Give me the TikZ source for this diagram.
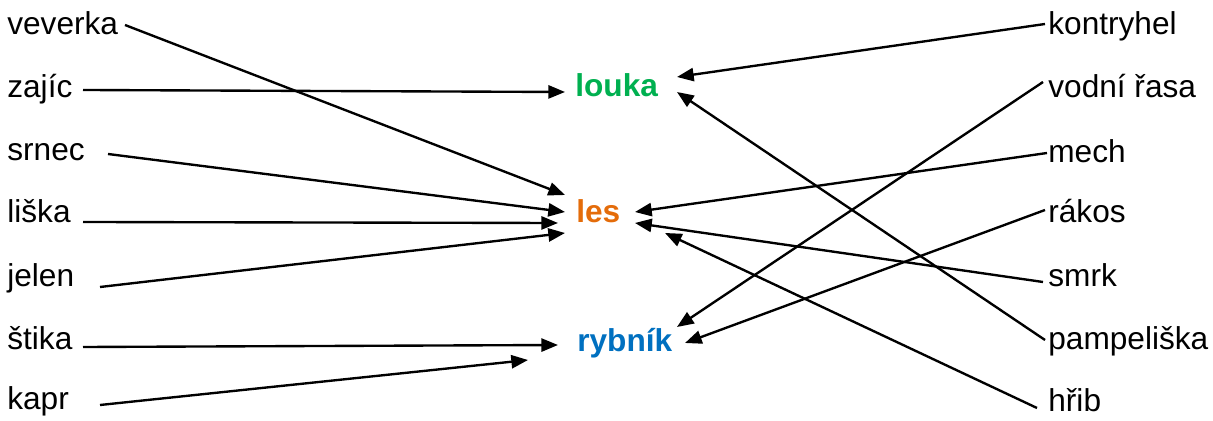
\documentclass[tikz,border=0pt]{standalone}
\usepackage{fontspec}
\setmainfont{Liberation Sans}
\usetikzlibrary{arrows.meta}
\definecolor{lukacol}{RGB}{0,176,80}
\definecolor{lescol}{RGB}{228,108,10}
\definecolor{rybcol}{RGB}{0,112,192}
\begin{document}
\begin{tikzpicture}[x=0.02cm,y=-0.02cm,
  word/.style={anchor=base west,inner sep=0pt,font=\fontsize{18}{22}\selectfont},
  place/.style={word,font=\fontsize{18}{22}\selectfont\bfseries},
  link/.style={draw,line width=1.35pt,-{Triangle[length=9.5pt,width=7.5pt]}}]
\useasboundingbox (0,0) rectangle (1213,421);
% animals (left)
\node[word] (veverka) at (7,35) {veverka};
\node[word] (zajic) at (7,98) {zajíc};
\node[word] (srnec) at (7,161) {srnec};
\node[word] (liska) at (7,223) {liška};
\node[word] (jelen) at (7,287) {jelen};
\node[word] (stika) at (7,350) {štika};
\node[word] (kapr) at (7,410) {kapr};
% places (middle)
\node[place,text=lukacol] (louka) at (575,97) {louka};
\node[place,text=lescol] (les) at (576,223) {les};
\node[place,text=rybcol] (rybnik) at (577,352) {rybník};
% plants (right)
\node[word] (kontryhel) at (1048,35) {kontryhel};
\node[word] (vodnirasa) at (1048,98) {vodní řasa};
\node[word] (mech) at (1048,163) {mech};
\node[word] (rakos) at (1048,223) {rákos};
\node[word] (smrk) at (1048,287) {smrk};
\node[word] (pampeliska) at (1048,350) {pampeliška};
\node[word] (hrib) at (1048,412) {hřib};
% left arrows
\path[link] ([shift={(118,-10)}]veverka.base west) -- ([shift={(-11,-28)}]les.base west);
\path[link] ([shift={(76,-8)}]zajic.base west) -- ([shift={(-10,-5)}]louka.base west);
\path[link] ([shift={(101,-7)}]srnec.base west) -- ([shift={(-11,-11)}]les.base west);
\path[link] ([shift={(76,-1)}]liska.base west) -- ([shift={(-18,0)}]les.base west);
\path[link] ([shift={(93,0)}]jelen.base west) -- ([shift={(-11,10)}]les.base west);
\path[link] ([shift={(76,-3)}]stika.base west) -- ([shift={(-19,-7)}]rybnik.base west);
\path[link] ([shift={(93,-5)}]kapr.base west) -- ([shift={(-49,8)}]rybnik.base west);
% right arrows
\path[link] ([shift={(-3,-11)}]kontryhel.base west) -- ([shift={(102,-20)}]louka.base west);
\path[link] ([shift={(-5,-16)}]vodnirasa.base west) -- ([shift={(100,-25)}]rybnik.base west);
\path[link] ([shift={(-1,-10)}]mech.base west) -- ([shift={(59,-11)}]les.base west);
\path[link] ([shift={(-3,-13)}]rakos.base west) -- ([shift={(108,-9)}]rybnik.base west);
\path[link] ([shift={(-5,-5)}]smrk.base west) -- ([shift={(59,0)}]les.base west);
\path[link] ([shift={(-3,-10)}]pampeliska.base west) -- ([shift={(102,-5)}]louka.base west);
\path[link] ([shift={(-11,-4)}]hrib.base west) -- ([shift={(89,10)}]les.base west);
\end{tikzpicture}
\end{document}
